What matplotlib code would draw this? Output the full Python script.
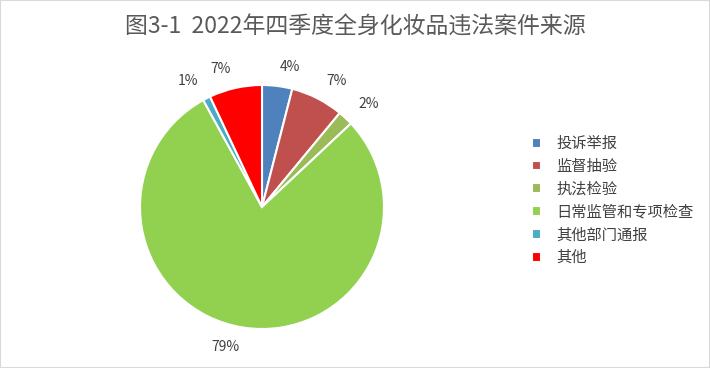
import matplotlib.pyplot as plt
from matplotlib.patches import Rectangle

plt.rcParams['font.family'] = ['Noto Sans CJK SC', 'DejaVu Sans']

# data
categories = ['投诉举报', '监督抽验', '执法检验', '日常监管和专项检查', '其他部门通报', '其他']
values = [4, 7, 2, 79, 1, 7]
colors = ['#4F81BD', '#C0504D', '#9BBB59', '#92D050', '#4BACC6', '#FF0000']
title = '图3-1  2022年四季度全身化妆品违法案件来源'

fig = plt.figure(figsize=(7.1, 3.68), dpi=100)
fig.patches.append(Rectangle((0, 0), 1, 1, transform=fig.transFigure,
                             fill=False, edgecolor='#D9D9D9', linewidth=1.5))

# pie centre ~ (262, 207) px, radius ~122 px
ax = fig.add_axes([140 / 710, 39 / 368, 244 / 710, 244 / 368])
labels = ['%d%%' % v for v in values]
wedges, texts = ax.pie(values, colors=colors, startangle=90, counterclock=False,
                       labels=labels, labeldistance=1.16,
                       wedgeprops=dict(edgecolor='white', linewidth=1.5),
                       textprops=dict(fontsize=10, color='#404040'))
ax.set_xlim(-1, 1)
ax.set_ylim(-1, 1)
ax.set_aspect('equal')

fig.text(0.5, 0.925, title, ha='center', va='center', fontsize=16.5, color='#595959')

leg = fig.legend(wedges, categories, loc='upper left', bbox_to_anchor=(526 / 710, 1 - 129 / 368),
                 frameon=False, fontsize=11, handlelength=0.6, handleheight=0.6,
                 handletextpad=1.0, labelspacing=0.38, borderaxespad=0)
for t in leg.get_texts():
    t.set_color('#404040')

fig.savefig('out.png', dpi=100)
